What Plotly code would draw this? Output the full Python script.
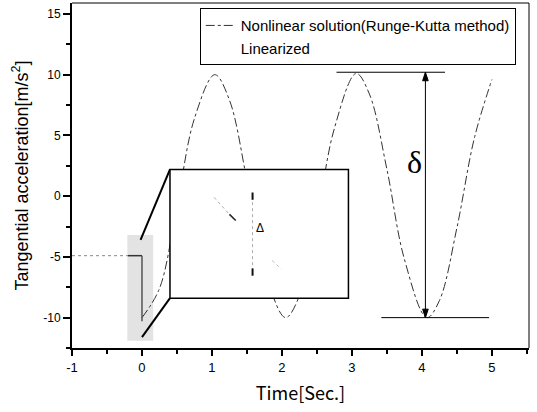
import plotly.graph_objects as go

# ---- data ----
time_s = [0.0, 0.25, 0.5, 0.75, 1.04, 1.25, 1.5, 1.75, 2.05, 2.25, 2.5, 2.75,
          3.06, 3.25, 3.5, 3.75, 4.07, 4.25, 4.5, 4.75, 5.0]
accel_nonlinear = [-10.0, -7.6, -0.8, 6.4, 10.0, 7.9, 1.3, -6.0, -10.0, -8.2, -1.8, 5.6,
                   10.1, 8.4, 2.2, -5.2, -10.0, -8.6, -2.6, 4.8, 9.6]
accel_linearized = [-10.0, -7.6, -0.8, 6.4, 10.0, 7.9, 1.3, -6.0, -10.0, -8.2, -1.8, 5.6,
                    10.1, 8.4, 2.2, -5.2, -10.0, -8.6, -2.6, 4.8, 9.6]

x_ticks = [-1, 0, 1, 2, 3, 4, 5]
x_ticktext = ["-1", "0", "1", "2", "3", "4", "5"]
y_ticks = [-10, -5, 0, 5, 10, 15]
y_ticktext = ["-10", "-5", "0", "5", "10", "15"]

# annotation geometry (data units)
delta_x = 4.05
delta_top = 10.2
delta_bottom = -10.0
delta_top_line = [2.78, 4.33]
delta_bottom_line = [3.42, 4.96]
zoom_box_x = [-0.21, 0.16]
zoom_box_y = [-11.9, -3.2]
inset_x = [0.4, 2.95]
inset_y = [-8.4, 2.2]

BLACK = "#000000"
fig = go.Figure()

fig.add_trace(go.Scatter(
    x=time_s, y=accel_nonlinear, mode="lines", line_shape="spline",
    name="Nonlinear solution(Runge-Kutta method)",
    line=dict(color="#333333", width=1, dash="dashdot")))
fig.add_trace(go.Scatter(
    x=time_s, y=accel_linearized, mode="lines", line_shape="spline",
    name="Linearized",
    line=dict(color="rgba(255,255,255,0)", width=1)))

shapes = []
# shaded zoom region around t=0
shapes.append(dict(type="rect", xref="x", yref="y", x0=zoom_box_x[0], x1=zoom_box_x[1],
                   y0=zoom_box_y[0], y1=zoom_box_y[1], fillcolor="rgba(0,0,0,0.11)",
                   line=dict(width=0), layer="above"))
# dotted line at -5
shapes.append(dict(type="line", xref="x", yref="y", x0=-1, x1=-0.2, y0=-4.9, y1=-4.9,
                   line=dict(color="#888888", width=1, dash="dot"), layer="above"))
shapes.append(dict(type="line", xref="x", yref="y", x0=-0.2, x1=0.0, y0=-4.9, y1=-4.9,
                   line=dict(color="#333333", width=1.5), layer="above"))
shapes.append(dict(type="line", xref="x", yref="y", x0=0.0, x1=0.0, y0=-4.9, y1=-10.3,
                   line=dict(color="#555555", width=1.5), layer="above"))
# connector lines
shapes.append(dict(type="line", xref="x", yref="y", x0=-0.02, y0=-3.6, x1=inset_x[0], y1=inset_y[1],
                   line=dict(color=BLACK, width=2), layer="above"))
shapes.append(dict(type="line", xref="x", yref="y", x0=0.0, y0=-11.6, x1=inset_x[0], y1=inset_y[0],
                   line=dict(color=BLACK, width=2), layer="above"))
# inset box
shapes.append(dict(type="rect", xref="x", yref="y", x0=inset_x[0], x1=inset_x[1],
                   y0=inset_y[0], y1=inset_y[1], fillcolor="white",
                   line=dict(color=BLACK, width=1.5), layer="above"))
# inset contents
shapes.append(dict(type="line", xref="x", yref="y", x0=1.58, x1=1.58, y0=0.0, y1=-6.25,
                   line=dict(color="#aaaaaa", width=1, dash="dot"), layer="above"))
shapes.append(dict(type="line", xref="x", yref="y", x0=1.03, x1=1.25, y0=-0.1, y1=-1.5,
                   line=dict(color="#aaaaaa", width=1, dash="dot"), layer="above"))
shapes.append(dict(type="line", xref="x", yref="y", x0=1.25, x1=1.34, y0=-1.5, y1=-2.0,
                   line=dict(color="#222222", width=1.5), layer="above"))
for yy in (0.0, -6.25):
    shapes.append(dict(type="line", xref="x", yref="y", x0=1.58, x1=1.58, y0=yy + 0.3, y1=yy - 0.3,
                       line=dict(color="#111111", width=2), layer="above"))
shapes.append(dict(type="line", xref="x", yref="y", x0=1.86, x1=1.99, y0=-5.3, y1=-6.0,
                   line=dict(color="#bbbbbb", width=1, dash="dot"), layer="above"))
# delta reference lines
shapes.append(dict(type="line", xref="x", yref="y", x0=delta_top_line[0], x1=delta_top_line[1],
                   y0=delta_top, y1=delta_top, line=dict(color=BLACK, width=1), layer="above"))
shapes.append(dict(type="line", xref="x", yref="y", x0=delta_bottom_line[0], x1=delta_bottom_line[1],
                   y0=delta_bottom, y1=delta_bottom, line=dict(color=BLACK, width=1), layer="above"))
shapes.append(dict(type="line", xref="x", yref="y", x0=delta_x, x1=delta_x,
                   y0=delta_top, y1=delta_bottom, line=dict(color=BLACK, width=1), layer="above"))
# arrowheads (small triangles)
hw, hh = 0.04, 0.7
shapes.append(dict(type="path", xref="x", yref="y", layer="above",
                   path=f"M {delta_x} {delta_top} L {delta_x - hw} {delta_top - hh} "
                        f"L {delta_x + hw} {delta_top - hh} Z",
                   fillcolor=BLACK, line=dict(color=BLACK, width=1)))
shapes.append(dict(type="path", xref="x", yref="y", layer="above",
                   path=f"M {delta_x} {delta_bottom} L {delta_x - hw} {delta_bottom + hh} "
                        f"L {delta_x + hw} {delta_bottom + hh} Z",
                   fillcolor=BLACK, line=dict(color=BLACK, width=1)))
# frame top/right (thin)
shapes.append(dict(type="line", xref="paper", yref="paper", x0=0, x1=1, y0=1, y1=1,
                   line=dict(color=BLACK, width=1)))
shapes.append(dict(type="line", xref="paper", yref="paper", x0=1, x1=1, y0=0, y1=1,
                   line=dict(color=BLACK, width=1)))

annotations = [
    dict(x=3.89, y=2.8, xref="x", yref="y", text="δ", showarrow=False,
         font=dict(family="Liberation Serif", size=32, color=BLACK)),
    dict(x=1.69, y=-2.6, xref="x", yref="y", text="Δ", showarrow=False,
         font=dict(family="Liberation Sans", size=12, color=BLACK)),
]

fig.update_layout(
    template="none",
    width=537, height=412,
    margin=dict(l=72, r=8, t=3, b=64),
    paper_bgcolor="white", plot_bgcolor="white",
    shapes=shapes, annotations=annotations,
    showlegend=True,
    legend=dict(x=0.971, y=0.985, xanchor="right", yanchor="top",
                bgcolor="white", bordercolor=BLACK, borderwidth=1,
                font=dict(family="Liberation Sans", size=15, color=BLACK),
                tracegroupgap=0, itemwidth=30),
    font=dict(family="Liberation Sans", color=BLACK),
)
fig.update_xaxes(
    range=[-1, 5.53], showgrid=False, zeroline=False,
    showline=True, linecolor=BLACK, linewidth=2,
    tickvals=x_ticks, ticktext=x_ticktext, ticks="outside", ticklen=6, tickwidth=1.5,
    tickcolor=BLACK, tickfont=dict(family="Liberation Sans", size=13, color=BLACK),
    minor=dict(dtick=0.5, tick0=0, ticks="outside", ticklen=4, tickcolor=BLACK, showgrid=False),
    title=dict(text="Time[Sec.]", font=dict(family="Noto Sans CJK KR", size=18, color=BLACK),
               standoff=14),
)
fig.update_yaxes(
    range=[-12.5, 15.9], showgrid=False, zeroline=False,
    showline=True, linecolor=BLACK, linewidth=2,
    tickvals=y_ticks, ticktext=y_ticktext, ticks="outside", ticklen=7, tickwidth=1.5,
    tickcolor=BLACK, tickfont=dict(family="Liberation Sans", size=12, color=BLACK),
    minor=dict(dtick=2.5, tick0=0, ticks="outside", ticklen=4, tickcolor=BLACK, showgrid=False),
    title=dict(text="Tangential acceleration[m/s<sup>2</sup>]",
               font=dict(family="Liberation Sans", size=18, color=BLACK), standoff=10),
)

fig.write_html("out.html")
